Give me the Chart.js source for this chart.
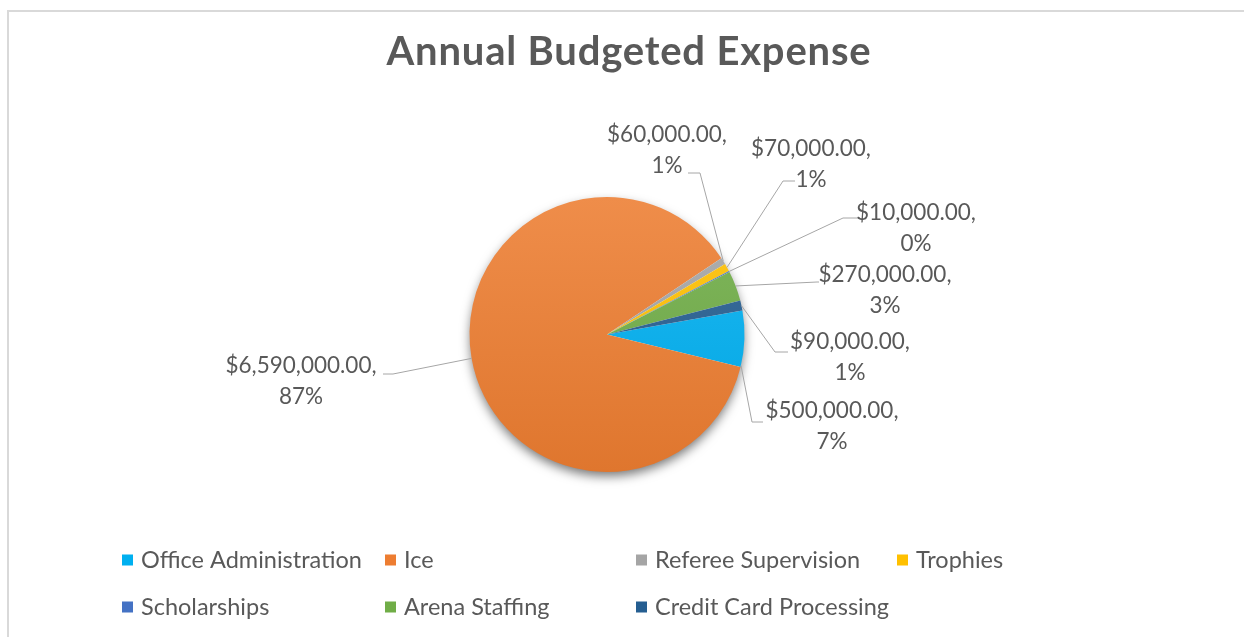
<!DOCTYPE html>
<html>
<head>
<meta charset="utf-8">
<title>Annual Budgeted Expense</title>
<script src="https://cdn.jsdelivr.net/npm/chart.js@4.4.1/dist/chart.umd.min.js"></script>
<style>
  html, body { margin: 0; padding: 0; background: #fff; }
  #wrap { position: relative; width: 1244px; height: 637px; }
  #frame { position: absolute; left: 7px; top: 10px; right: 0; bottom: 0; border-top: 2px solid #d9d9d9; border-left: 2px solid #d9d9d9; }
  canvas { position: absolute; left: 0; top: 0; }
</style>
</head>
<body>
<div id="wrap">
  <div id="frame"></div>
  <canvas id="myChart" width="1244" height="637"></canvas>
</div>
<script>
// data
var categories = ["Office Administration", "Ice", "Referee Supervision", "Trophies", "Scholarships", "Arena Staffing", "Credit Card Processing"];
var amounts = [500000, 6590000, 60000, 70000, 10000, 270000, 90000];
var percents = ["7%", "87%", "1%", "1%", "0%", "3%", "1%"];
var colors = ["#00B0F0", "#ED7D31", "#A5A5A5", "#FFC000", "#4472C4", "#70AD47", "#255E91"];

var textColor = "#595959";
var fontFamily = "Lato, 'Open Sans', sans-serif";

// where each data label sits, relative to the pie centre
// frac = where on the slice the leader line starts
var labelLayout = [
  { frac: 0.97, elbow: [145, 87.5],  end: [156, 87.5],  text: [225, 76.5] },
  { frac: 0.5,  elbow: [-214, 39.5], end: [-224, 39.5], text: [-306, 31.5] },
  { frac: 0.5,  elbow: [93, -161.5], end: [81, -161.5], text: [60, -199.5] },
  { frac: 0.5,  elbow: [176, -153.5], end: [188, -153.5], text: [204, -185.5] },
  { frac: 0.5,  elbow: [236, -116.5], end: [250, -116.5], text: [309, -121.5] },
  { frac: 0.5,  elbow: [210, -52.5], end: [212, -52.5], text: [278, -59.5] },
  { frac: 0.5,  elbow: [168, 17.5],  end: [181, 17.5],  text: [243, 7.5] }
];
var legendCols = [122, 385, 636, 897];
var legendRows = [560, 607];

function shade(hex, amt) {
  var n = parseInt(hex.slice(1), 16);
  var rgb = [(n >> 16) & 255, (n >> 8) & 255, n & 255].map(function (c) {
    var v = amt > 0 ? c + (255 - c) * amt : c * (1 + amt);
    return Math.round(Math.max(0, Math.min(255, v)));
  });
  return "rgb(" + rgb.join(",") + ")";
}

function money(v) {
  return "$" + v.toLocaleString("en-US", { minimumFractionDigits: 2, maximumFractionDigits: 2 });
}

var shadowPlugin = {
  id: "pieShadow",
  beforeDatasetsDraw: function (chart) {
    var arc = chart.getDatasetMeta(0).data[0];
    var c = chart.ctx;
    c.save();
    c.shadowColor = "rgba(0,0,0,0.55)";
    c.shadowBlur = 11;
    c.shadowOffsetY = 5;
    c.beginPath();
    c.arc(arc.x, arc.y, arc.outerRadius - 1, 0, Math.PI * 2);
    c.fillStyle = "#fff";
    c.fill();
    c.restore();
  }
};

var labelPlugin = {
  id: "dataLabels",
  afterDatasetsDraw: function (chart) {
    var c = chart.ctx;
    var meta = chart.getDatasetMeta(0);
    c.save();
    meta.data.forEach(function (arc, i) {
      var L = labelLayout[i];
      var a = arc.startAngle + (arc.endAngle - arc.startAngle) * L.frac;
      var r = arc.outerRadius;
      c.beginPath();
      c.moveTo(arc.x + Math.cos(a) * r, arc.y + Math.sin(a) * r);
      c.lineTo(arc.x + L.elbow[0], arc.y + L.elbow[1]);
      c.lineTo(arc.x + L.end[0], arc.y + L.end[1]);
      c.strokeStyle = "#a6a6a6";
      c.lineWidth = 1;
      c.stroke();

      c.fillStyle = textColor;
      c.font = "22.5px " + fontFamily;
      c.textAlign = "center";
      c.textBaseline = "middle";
      c.fillText(money(amounts[i]) + ",", arc.x + L.text[0], arc.y + L.text[1]);
      c.fillText(percents[i], arc.x + L.text[0], arc.y + L.text[1] + 31);
    });
    c.restore();
  },
  afterDraw: function (chart) {
    var c = chart.ctx;
    c.save();
    c.fillStyle = textColor;
    c.textAlign = "center";
    c.textBaseline = "middle";
    c.font = "bold 40px " + fontFamily;
    c.letterSpacing = "0.8px";
    c.fillText("Annual Budgeted Expense", 629, 52);

    c.font = "23.5px " + fontFamily;
    c.letterSpacing = "0px";
    c.textAlign = "left";
    categories.forEach(function (name, i) {
      var x = legendCols[i % 4];
      var y = legendRows[Math.floor(i / 4)];
      c.fillStyle = colors[i];
      c.fillRect(x, y - 5.5, 11, 11);
      c.fillStyle = textColor;
      c.fillText(name, x + 19, y);
    });
    c.restore();
  }
};

new Chart("myChart", {
  type: "pie",
  data: {
    labels: categories,
    datasets: [{
      data: amounts,
      borderWidth: 0,
      backgroundColor: function (ctx) {
        var area = ctx.chart.chartArea;
        var base = colors[ctx.dataIndex];
        if (!area) return base;
        var g = ctx.chart.ctx.createLinearGradient(0, area.top, 0, area.bottom);
        g.addColorStop(0, shade(base, 0.12));
        g.addColorStop(1, shade(base, -0.06));
        return g;
      }
    }]
  },
  options: {
    responsive: false,
    animation: false,
    rotation: 80,
    layout: { padding: { top: 197, bottom: 165, left: 200, right: 230 } },
    plugins: {
      legend: { display: false },
      title: { display: false },
      tooltip: { enabled: false }
    }
  },
  plugins: [shadowPlugin, labelPlugin]
});
</script>
</body>
</html>
